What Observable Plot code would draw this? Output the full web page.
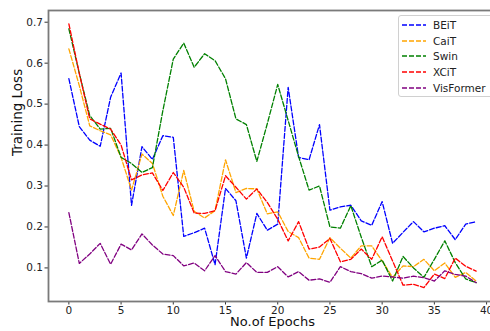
<!DOCTYPE html>
<html>
<head>
<meta charset="utf-8">
<script src="https://cdn.jsdelivr.net/npm/d3@7"></script>
<script src="https://cdn.jsdelivr.net/npm/@observablehq/plot@0.6"></script>
<style>
  body { margin: 0; background: #fff; font-family: "DejaVu Sans", sans-serif; }
  #wrap { position: relative; width: 490px; height: 331px; overflow: hidden; }
  #legend { position: absolute; left: 398px; top: 15px; width: 100px; height: 80px;
    border: 1px solid #d0d0d0; border-radius: 3px; background: rgba(255,255,255,0.85);
    font-size: 10.5px; color: #222; }
  .row { position: absolute; left: 3px; height: 14px; display: flex; align-items: center; }
  .row svg { width: 24px; height: 6px; margin-right: 7px; }
</style>
</head>
<body>
<div id="wrap"></div>
<script>
const epochs = [0,1,2,3,4,5,6,7,8,9,10,11,12,13,14,15,16,17,18,19,20,21,22,23,24,25,26,27,28,29,30,31,32,33,34,35,36,37,38,39];
const seriesNames = ["BEiT", "CaiT", "Swin", "XCiT", "VisFormer"];
const seriesColors = ["blue", "orange", "green", "red", "purple"];
const beit = [0.562,0.445,0.412,0.397,0.517,0.576,0.253,0.396,0.365,0.423,0.419,0.177,0.186,0.197,0.108,0.294,0.264,0.124,0.233,0.192,0.207,0.541,0.370,0.364,0.450,0.241,0.249,0.253,0.215,0.204,0.262,0.160,0.187,0.213,0.188,0.197,0.203,0.169,0.207,0.213];
const cait = [0.635,0.545,0.447,0.435,0.425,0.370,0.290,0.378,0.355,0.275,0.228,0.338,0.238,0.222,0.240,0.364,0.284,0.294,0.293,0.232,0.237,0.189,0.174,0.124,0.121,0.174,0.148,0.124,0.154,0.154,0.117,0.077,0.105,0.103,0.121,0.093,0.112,0.077,0.089,0.068];
const swin = [0.684,0.575,0.472,0.439,0.441,0.370,0.355,0.333,0.345,0.484,0.610,0.649,0.590,0.623,0.606,0.562,0.464,0.450,0.360,0.452,0.548,0.460,0.372,0.290,0.300,0.200,0.197,0.252,0.175,0.103,0.119,0.068,0.128,0.100,0.077,0.121,0.166,0.113,0.073,0.064];
const xcit = [0.696,0.575,0.464,0.451,0.439,0.400,0.315,0.327,0.332,0.289,0.333,0.297,0.234,0.233,0.240,0.325,0.297,0.268,0.293,0.260,0.219,0.166,0.213,0.146,0.151,0.172,0.115,0.121,0.146,0.121,0.176,0.117,0.058,0.060,0.052,0.085,0.074,0.124,0.104,0.092];
const visformer = [0.235,0.111,0.134,0.160,0.109,0.158,0.144,0.183,0.156,0.134,0.130,0.105,0.112,0.093,0.130,0.091,0.085,0.113,0.089,0.089,0.103,0.078,0.091,0.070,0.073,0.065,0.103,0.091,0.086,0.075,0.080,0.078,0.075,0.080,0.076,0.068,0.093,0.084,0.080,0.064];
const xTicks = [0,5,10,15,20,25,30,35,40];
const yTicks = [0.1,0.2,0.3,0.4,0.5,0.6,0.7];
const xLabel = "No.of Epochs";
const yLabel = "Training Loss";

const allSeries = [beit, cait, swin, xcit, visformer];
const rows = [];
allSeries.forEach((vals, s) => vals.forEach((v, i) => rows.push({epoch: epochs[i], loss: v, model: seriesNames[s]})));

const chart = Plot.plot({
  width: 490, height: 331,
  marginLeft: 48, marginRight: -6, marginTop: 10, marginBottom: 30,
  style: {fontFamily: "DejaVu Sans, sans-serif", background: "white", overflow: "visible"},
  x: {domain: [-1.95, 40.95]},
  y: {domain: [0.018, 0.7286]},
  color: {domain: seriesNames, range: seriesColors},
  marks: [
    Plot.axisX({ticks: xTicks, tickFormat: "d", tickSize: 3.5, tickPadding: 2, fontSize: 10.5, label: null, stroke: "#333", color: "#222"}),
    Plot.axisY({ticks: yTicks, tickFormat: ".1f", tickSize: 3.5, tickPadding: 2, fontSize: 10.5, label: null, stroke: "#333", color: "#222"}),
    Plot.lineY(rows, {x: "epoch", y: "loss", z: "model", stroke: "model", strokeWidth: 1.3, strokeDasharray: "5,2"}),
    Plot.frame({stroke: "#7a7a7a", strokeWidth: 1.8}),
    Plot.text([xLabel], {frameAnchor: "bottom", dy: 24.5, fontSize: 13, fill: "#111"}),
    Plot.text([yLabel], {frameAnchor: "left", dx: -31, rotate: -90, fontSize: 13.5, fill: "#111"})
  ]
});
const wrap = document.getElementById("wrap");
wrap.appendChild(chart);

const legend = document.createElement("div");
legend.id = "legend";
seriesNames.forEach((name, i) => {
  const row = document.createElement("div");
  row.className = "row";
  row.style.top = (2 + i * 15.7) + "px";
  row.innerHTML = `<svg viewBox="0 0 24 6"><line x1="0" y1="3" x2="24" y2="3" stroke="${seriesColors[i]}" stroke-width="1.3" stroke-dasharray="5,2"/></svg><span>${name}</span>`;
  legend.appendChild(row);
});
wrap.appendChild(legend);
</script>
</body>
</html>
